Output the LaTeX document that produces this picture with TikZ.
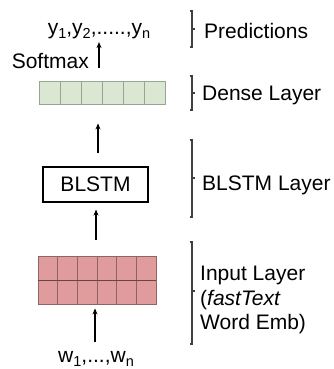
\documentclass[tikz,border=0pt]{standalone}
\usepackage{fontspec}
\setmainfont{Liberation Sans}
\usetikzlibrary{arrows.meta}

\definecolor{densefill}{HTML}{DAE8D3}
\definecolor{densegrid}{HTML}{98A592}
\definecolor{inputfill}{HTML}{E09C9C}
\definecolor{inputgrid}{HTML}{8E6464}

\newcommand{\lowidx}[1]{\raisebox{-4pt}{\fontsize{14.5}{14.5}\selectfont #1}}

\tikzset{
  txt/.style={font=\fontsize{21}{24.5}\selectfont},
  lbl/.style={txt, inner sep=0},
  arr/.style={-{Stealth[length=6pt,width=5pt]}, line width=1.3pt},
  bracket/.style={line width=1.2pt, gray!50!black},
}

\begin{document}
\begin{tikzpicture}[x=1pt, y=-1pt]
        \useasboundingbox (0,0) rectangle (334,369);

        % Dense layer
        \node[draw=densegrid, fill=densefill, line width=0.9pt, minimum width=126pt, minimum height=23pt, inner sep=0] (dense) at (102,92.5) {};
        \foreach \i in {1,...,5}
            \draw[densegrid, line width=0.9pt] (39+\i*21,81) -- (39+\i*21,104);

        % BLSTM box
        \node[txt, draw, line width=1.1pt, minimum width=105pt, minimum height=35pt] (blstm) at (95.5,184.5) {BLSTM};

        % Input layer (two rows)
        \node[draw=inputgrid, fill=inputfill, line width=0.9pt, minimum width=118pt, minimum height=48pt, inner sep=0] (input) at (97,280) {};
        \foreach \i in {1,...,5}
            \draw[inputgrid, line width=0.9pt] (38+\i*19.67,256) -- (38+\i*19.67,304);
        \draw[inputgrid!70!black, line width=1pt] (input.west) -- (input.east);

        % Words and predictions
        \node[lbl, anchor=base] (wlist) at (96,362) {w\lowidx{1},...,w\lowidx{n}};
        \node[lbl, anchor=base] (preds) at (99,35) {y\lowidx{1},y\lowidx{2},.....,y\lowidx{n}};
        \node[lbl, anchor=base east] (softmax) at (89,68) {Softmax};

        % Arrows
        \draw[arr] ([xshift=-1pt,yshift=9pt]wlist.north) -- ([xshift=-2pt,yshift=-4pt]input.south);
        \draw[arr] ([xshift=-1pt,yshift=16pt]input.north) -- ([xshift=0.5pt,yshift=-7pt]blstm.south);
        \draw[arr] ([xshift=2.5pt,yshift=13pt]blstm.north) -- ([xshift=-4pt,yshift=-19pt]dense.south);
        \draw[arr] ([xshift=-3pt,yshift=13pt]dense.north) -- ([xshift=0pt,yshift=-2.5pt]preds.south);

        % Brackets on the right
        \foreach \t/\m/\b in {11/29/47, 76/93/110, 140/178/217, 242/291/344}
            \draw[bracket] (189.5,\t) -- (192,\t) -- (192,\b) -- (189.5,\b) (192,\m) -- (194.5,\m);

        % Layer names
        \node[lbl, anchor=base west] (predlbl) at (204,38) {Predictions};
        \node[lbl, anchor=base west] (denselbl) at (202,100) {Dense Layer};
        \node[lbl, anchor=base west] (blstmlbl) at (202,190) {BLSTM Layer};
        \node[lbl, anchor=north west, align=left] (inputlbl) at (200,266) {Input Layer\\(\textit{fastText}\\Word Emb)};
    \end{tikzpicture}
\end{document}
